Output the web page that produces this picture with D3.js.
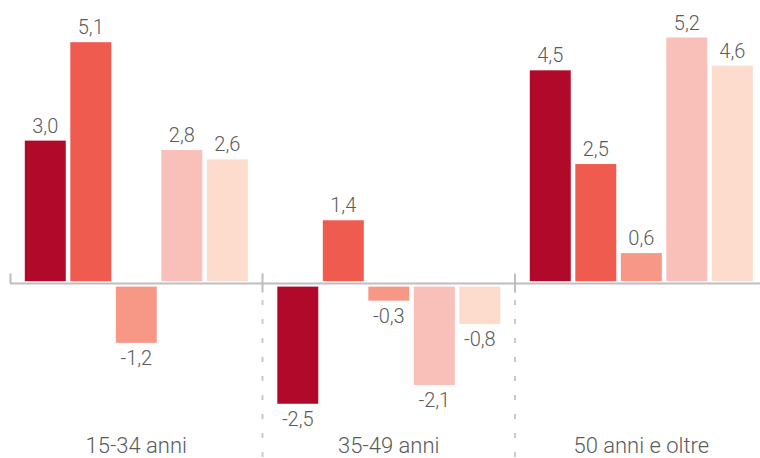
<!DOCTYPE html>
<html>
<head>
<meta charset="utf-8">
<script src="https://cdn.jsdelivr.net/npm/d3@7"></script>
<style>
  html, body { margin: 0; padding: 0; background: #fff; }
  svg text { font-family: Roboto, "Open Sans", sans-serif; font-weight: 300; fill: #5b5b5b; }
</style>
</head>
<body>
<div id="chart"></div>
<script>
// Data
const categories = ["15-34 anni", "35-49 anni", "50 anni e oltre"];
const seriesKeys = ["s1", "s2", "s3", "s4", "s5"];
const seriesColors = ["#b0092a", "#f05b50", "#f79887", "#f9bfb9", "#fddcce"];
// bar heights as drawn (the 1,4 bar is drawn a little short in the original)
const values = [
  [3.0, 5.1, -1.2, 2.8, 2.6],
  [-2.5, 1.3, -0.3, -2.1, -0.8],
  [4.5, 2.5, 0.6, 5.2, 4.6]
];
// printed value labels
const valueLabels = [
  ["3,0", "5,1", "-1,2", "2,8", "2,6"],
  ["-2,5", "1,4", "-0,3", "-2,1", "-0,8"],
  ["4,5", "2,5", "0,6", "5,2", "4,6"]
];

const width = 760, height = 458;
const gap = 2.2; // white space between bars and the axis line

const svg = d3.select("#chart").append("svg")
  .attr("width", width)
  .attr("height", height);

// group bands run off the right edge, like the original
const x0 = d3.scaleBand()
  .domain(categories)
  .range([10, 10 + 252.5 * 3])
  .paddingInner(0)
  .paddingOuter(0);

const x1 = d3.scaleBand()
  .domain(seriesKeys)
  .range([14.8, 14.8 + 223])
  .paddingInner(0.1);

const y = d3.scaleLinear()
  .domain([0, 5.1])
  .range([283.4, 283.4 - 239]);

// dashed separators below the axis
const seps = [categories[1], categories[2]].map(c => x0(c));
svg.append("g").selectAll("line")
  .data(seps)
  .enter().append("line")
  .attr("x1", d => d).attr("x2", d => d)
  .attr("y1", 300).attr("y2", height)
  .attr("stroke", "#c9c9cd")
  .attr("stroke-width", 2)
  .attr("stroke-dasharray", "5,14");

// axis line with ticks
svg.append("line")
  .attr("x1", 10).attr("x2", width)
  .attr("y1", y(0)).attr("y2", y(0))
  .attr("stroke", "#bdbdc2")
  .attr("stroke-width", 2);

svg.append("line")
  .attr("x1", 10.5).attr("x2", 10.5)
  .attr("y1", y(0) - 10).attr("y2", y(0))
  .attr("stroke", "#bdbdc2")
  .attr("stroke-width", 2);

svg.append("g").selectAll("line")
  .data(seps)
  .enter().append("line")
  .attr("x1", d => d).attr("x2", d => d)
  .attr("y1", y(0) - 10).attr("y2", y(0) + 9)
  .attr("stroke", "#bdbdc2")
  .attr("stroke-width", 2);

// bars
const groups = svg.append("g").selectAll("g")
  .data(categories)
  .enter().append("g")
  .attr("transform", d => `translate(${x0(d)},0)`);

const cells = groups.selectAll("g")
  .data((c, i) => values[i].map((v, j) => ({
    key: seriesKeys[j], v, label: valueLabels[i][j], color: seriesColors[j]
  })))
  .enter().append("g");

cells.append("rect")
  .attr("x", d => x1(d.key))
  .attr("width", x1.bandwidth())
  .attr("y", d => d.v >= 0 ? y(d.v) - gap : y(0) + gap + 1)
  .attr("height", d => Math.abs(y(d.v) - y(0)))
  .attr("fill", d => d.color);

cells.append("text")
  .attr("x", d => x1(d.key) + x1.bandwidth() / 2)
  .attr("y", d => d.v >= 0 ? y(d.v) - gap - 8 : y(d.v) + gap + 1 + 22)
  .attr("text-anchor", "middle")
  .attr("font-size", 20)
  .text(d => d.label);

// category labels
svg.append("g").selectAll("text")
  .data(categories)
  .enter().append("text")
  .attr("x", d => x0(d) + 14.8 + 223 / 2)
  .attr("y", 453)
  .attr("text-anchor", "middle")
  .attr("font-size", 22)
  .text(d => d);
</script>
</body>
</html>
